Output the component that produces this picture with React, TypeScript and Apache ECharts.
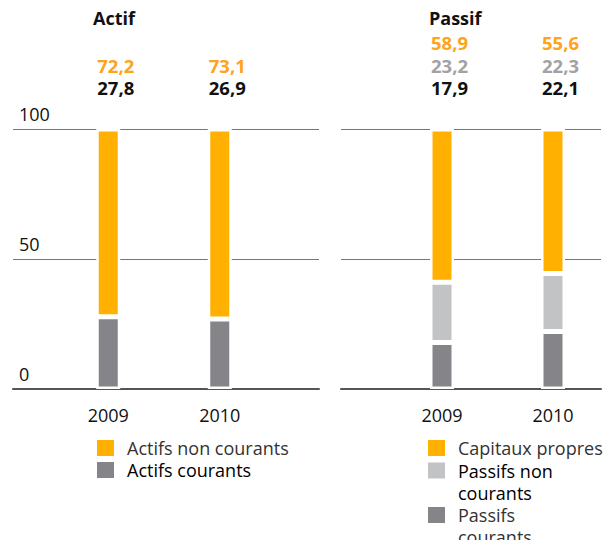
import React, { useEffect, useRef } from "react";
import * as echarts from "echarts";

const years = ["2009", "2010"];
const yTicks = [0, 50, 100];

const actifsNonCourants = [72.2, 73.1];
const actifsCourants = [27.8, 26.9];

const capitauxPropres = [58.9, 55.6];
const passifsNonCourants = [23.2, 22.3];
const passifsCourants = [17.9, 22.1];

const leftLegend = ["Actifs non courants", "Actifs courants"];
const rightLegend = ["Capitaux propres", "Passifs non\ncourants", "Passifs\ncourants"];

const ORANGE = "#FFB000";
const ORANGE_TXT = "#FFA31A";
const DARK = "#858489";
const LIGHT = "#C2C3C5";
const GRAY_TXT = "#A2A2A4";
const FONT = "Open Sans";

const fmt = (v: number) => v.toFixed(1).replace(".", ",");

export default function App() {
  const ref = useRef<HTMLDivElement>(null);
  useEffect(() => {
    if (!ref.current) return;
    const chart = echarts.init(ref.current, undefined, { renderer: "svg" });

    const top = 129;
    const height = 260;
    const barW = 24;

    const richLabel = {
      o: { color: ORANGE_TXT, fontWeight: "bold", fontSize: 18.5, lineHeight: 22.5, fontFamily: FONT },
      g: { color: GRAY_TXT, fontWeight: "bold", fontSize: 18.5, lineHeight: 22.5, fontFamily: FONT },
      k: { color: "#111", fontWeight: "bold", fontSize: 18.5, lineHeight: 22.5, fontFamily: FONT },
    };

    const lineAxisY = (gi: number, showLabels: boolean) => ({
      type: "value",
      gridIndex: gi,
      min: 0,
      max: 100,
      interval: 50,
      axisLine: { show: false },
      axisTick: { show: false },
      splitLine: { show: true, lineStyle: { color: "#767676", width: 1 } },
      axisLabel: {
        show: showLabels,
        inside: true,
        align: "left",
        verticalAlign: "bottom",
        margin: 6,
        padding: [0, 0, 6, 0],
        fontSize: 18,
        color: "#111",
        fontFamily: FONT,
        formatter: (v: number) => (yTicks.includes(v) ? String(v) : ""),
      },
    });
    const hiddenY = (gi: number) => ({
      type: "value",
      gridIndex: gi,
      min: 0,
      max: 100,
      show: false,
    });
    const baseX = (gi: number) => ({
      type: "category",
      gridIndex: gi,
      data: years,
      axisLine: { show: true, lineStyle: { color: "#555", width: 2 } },
      axisTick: { show: false },
      axisLabel: { show: false },
    });
    const barX = (gi: number) => ({
      type: "category",
      gridIndex: gi,
      data: years,
      axisLine: { show: false },
      axisTick: { show: false },
      axisLabel: { margin: 17, fontSize: 18, color: "#111", fontFamily: FONT },
    });

    const itemStyle = (c: string) => ({ color: c, borderColor: "#fff", borderWidth: 2.5 });

    const legendGraphics: any[] = [];
    const LH = 22;
    const leftColors = [ORANGE, DARK];
    const leftWeights = ["normal", "500"];
    const leftTextColors = ["#333", "#000"];
    leftLegend.forEach((name, i) => {
      const cy = 448 + i * LH;
      legendGraphics.push({ type: "rect", left: 97, top: cy - 8, shape: { width: 17, height: 16 }, style: { fill: leftColors[i] } });
      legendGraphics.push({
        type: "text", x: 127, y: cy,
        style: { text: name, fontSize: 18, fontFamily: FONT, fill: leftTextColors[i], fontWeight: leftWeights[i], verticalAlign: "middle", lineHeight: LH },
      });
    });
    const rightColors = [ORANGE, LIGHT, DARK];
    const rightWeights = ["normal", "500", "normal"];
    const rightTextColors = ["#333", "#000", "#333"];
    let cy = 448;
    rightLegend.forEach((name, i) => {
      legendGraphics.push({ type: "rect", left: 428, top: cy - 8, shape: { width: 17, height: 16 }, style: { fill: rightColors[i] } });
      legendGraphics.push({
        type: "text", x: 458, y: cy - LH / 2,
        style: { text: name, fontSize: 18, fontFamily: FONT, fill: rightTextColors[i], fontWeight: rightWeights[i], verticalAlign: "top", lineHeight: LH },
      });
      cy += LH * name.split("\n").length + 0.5;
    });

    chart.setOption({
      animation: false,
      textStyle: { fontFamily: FONT },
      title: [
        { text: "Actif", left: 88, top: 4, textStyle: { fontSize: 18, fontWeight: "bold", color: "#111", fontFamily: FONT } },
        { text: "Passif", left: 424, top: 4, textStyle: { fontSize: 18, fontWeight: "bold", color: "#111", fontFamily: FONT } },
      ],
      grid: [
        { left: 13, width: 306, top, height },
        { left: 52.5, width: 223, top, height },
        { left: 341, width: 260, top, height },
        { left: 386.5, width: 222, top, height },
      ],
      xAxis: [baseX(0), barX(1), baseX(2), barX(3)],
      yAxis: [lineAxisY(0, true), hiddenY(1), lineAxisY(2, false), hiddenY(3)],
      graphic: legendGraphics,
      series: [
        {
          name: "Actifs courants", type: "bar", xAxisIndex: 1, yAxisIndex: 1, stack: "a",
          barWidth: barW, data: actifsCourants, itemStyle: itemStyle(DARK),
        },
        {
          name: "Actifs non courants", type: "bar", xAxisIndex: 1, yAxisIndex: 1, stack: "a",
          barWidth: barW, data: actifsNonCourants, itemStyle: itemStyle(ORANGE),
          label: {
            show: true, position: "top", distance: 30, align: "left", offset: [-11, 0],
            formatter: (p: any) => `{o|${fmt(actifsNonCourants[p.dataIndex])}}\n{k|${fmt(actifsCourants[p.dataIndex])}}`,
            rich: richLabel,
          },
        },
        {
          name: "Passifs courants", type: "bar", xAxisIndex: 3, yAxisIndex: 3, stack: "p",
          barWidth: barW, data: passifsCourants, itemStyle: itemStyle(DARK),
        },
        {
          name: "Passifs non courants", type: "bar", xAxisIndex: 3, yAxisIndex: 3, stack: "p",
          barWidth: barW, data: passifsNonCourants, itemStyle: itemStyle(LIGHT),
        },
        {
          name: "Capitaux propres", type: "bar", xAxisIndex: 3, yAxisIndex: 3, stack: "p",
          barWidth: barW, data: capitauxPropres, itemStyle: itemStyle(ORANGE),
          label: {
            show: true, position: "top", distance: 30, align: "left", offset: [-11, 0],
            formatter: (p: any) =>
              `{o|${fmt(capitauxPropres[p.dataIndex])}}\n{g|${fmt(passifsNonCourants[p.dataIndex])}}\n{k|${fmt(passifsCourants[p.dataIndex])}}`,
            rich: richLabel,
          },
        },
      ],
    });
    return () => chart.dispose();
  }, []);
  return <div ref={ref} style={{ width: 612, height: 548, margin: -8 }} />;
}
